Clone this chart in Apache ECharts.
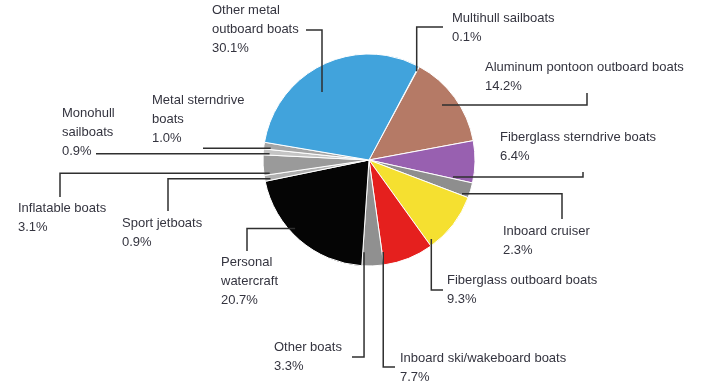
<!DOCTYPE html>
<html><head><meta charset="utf-8">
<script src="https://cdn.jsdelivr.net/npm/echarts@6/dist/echarts.min.js"></script>
<style>html,body{margin:0;padding:0;background:#fff}#c{width:702px;height:384px}</style>
</head><body><div id="c"></div>
<script>
// ---- data ----
const categories = ['Multihull sailboats','Aluminum pontoon outboard boats','Fiberglass sterndrive boats','Inboard cruiser','Fiberglass outboard boats','Inboard ski/wakeboard boats','Other boats','Personal watercraft','Sport jetboats','Inflatable boats','Monohull sailboats','Metal sterndrive boats','Other metal outboard boats'];
const shares = [0.1, 14.2, 6.4, 2.3, 9.3, 7.7, 3.3, 20.7, 0.9, 3.1, 0.9, 1.0, 30.1];
const labelTexts = ['Multihull sailboats','Aluminum pontoon outboard boats','Fiberglass sterndrive boats','Inboard cruiser','Fiberglass outboard boats','Inboard ski/wakeboard boats','Other boats','Personal\nwatercraft','Sport jetboats','Inflatable boats','Monohull\nsailboats','Metal sterndrive\nboats','Other metal\noutboard boats'];

// ---- styles / layout ----
const colors = ['#3a9f4a','#b57a66','#9860b0','#8e8e8e','#f5e030','#e5201e','#909090','#050505','#b0b0b0','#9a9a9a','#c4c4c4','#a6a6a6','#41a3dc'];
const CX = 369, CY = 160, R = 106, START = 28; // START: clockwise degrees from 12 o'clock
const LH = 19;
// x,y: text left / first line centre; t: leader type; ax,ay: preferred anchor; e: elbow coord; f: end coord
const labelPlaces = [
  {x:452,y:18, t:'v',ax:427,ay:72, e:27, f:443},
  {x:485,y:67, t:'h',ax:442,ay:105,e:587,f:93},
  {x:500,y:137,t:'h',ax:453,ay:177,e:583,f:172},
  {x:503,y:231,t:'h',ax:455,ay:209,e:562,f:219},
  {x:447,y:280,t:'v',ax:432,ay:240,e:290,f:443},
  {x:400,y:358,t:'v',ax:383,ay:252,e:367,f:395},
  {x:274,y:347,t:'v',ax:362,ay:252,e:357,f:352},
  {x:221,y:262,t:'h',ax:288,ay:235,e:247,f:251},
  {x:122,y:223,t:'h',ax:275,ay:195,e:168,f:211},
  {x:18, y:208,t:'h',ax:272,ay:185,e:60, f:197},
  {x:62, y:113,t:'h',ax:270,ay:171,e:90, f:159},
  {x:152,y:100,t:'h',ax:270,ay:163,e:197,f:150},
  {x:212,y:10, t:'v',ax:322,ay:92, e:30, f:306}
];

function hasFont(name){
  const c=document.createElement('canvas').getContext('2d');
  const s='Aluminum pontoon outboard boats';
  c.font='16px monospace'; const w0=c.measureText(s).width;
  c.font="16px '"+name+"', monospace"; const w1=c.measureText(s).width;
  return Math.abs(w0-w1)>0.5;
}
let FONT = {family:"'Liberation Sans', Arial, sans-serif", size:13};
if (hasFont('Liberation Sans Narrow')) FONT = {family:"'Liberation Sans Narrow', sans-serif", size:16};

const total = shares.reduce((a,b)=>a+b,0);
const spans = []; {let cum=0; shares.forEach(v=>{const a0=START+cum/total*360; cum+=v; spans.push([a0, START+cum/total*360]);});}

function anchorFor(i){
  const p = labelPlaces[i], [a0,a1] = spans[i], span=a1-a0;
  const dx = p.ax-CX, dy = p.ay-CY;
  let th = Math.atan2(dx, -dy)*180/Math.PI;
  let rho = Math.sqrt(dx*dx+dy*dy);
  const pad = Math.min(0.8, span/4);
  const d = ((th-a0)%360+360)%360;
  if (d < pad || d > span-pad) {
    if (d <= span) th = (d < pad) ? a0+pad : a1-pad;
    else th = ((d-span) < (360-d)) ? a1-pad : a0+pad;
  }
  rho = Math.max(0.3*R, Math.min(0.95*R, rho));
  const t = th*Math.PI/180;
  return [CX+rho*Math.sin(t), CY-rho*Math.cos(t)];
}
function leader(i){
  const p = labelPlaces[i], a = anchorFor(i);
  if (p.t==='h') {
    const wantUp = (p.f - p.ay) < 0, isUp = (p.f - a[1]) < 0;
    if (wantUp === isUp) return [a,[p.e,a[1]],[p.e,p.f]];
    return [a,[p.e + (p.e<a[0]?6:-6),a[1]]];
  }
  return [a,[a[0],p.e],[p.f,p.e]];
}

const chart = echarts.init(document.getElementById('c'), null, {renderer:'canvas'});
chart.setOption({
  backgroundColor:'#fff',
  animation:false,
  series:[{
    type:'pie',
    center:[CX,CY],
    radius:R,
    startAngle:90-START,
    clockwise:true,
    avoidLabelOverlap:false,
    data: categories.map((n,i)=>({name:n, value:shares[i], itemStyle:{color:colors[i]}})),
    itemStyle:{borderColor:'#ffffff', borderWidth:1},
    label:{
      show:true, position:'outside',
      formatter:p=>labelTexts[p.dataIndex]+'\n'+p.value.toFixed(1)+'%',
      color:'#34343f', fontFamily:FONT.family, fontSize:FONT.size, lineHeight:LH
    },
    labelLine:{show:false},
    labelLayout:function(params){
      const p = labelPlaces[params.dataIndex];
      return {x:p.x, y:p.y-LH/2, align:'left', verticalAlign:'top'};
    }
  }],
  graphic: categories.map((n,i)=>({
    type:'polyline', z:100, silent:true,
    shape:{points:leader(i)},
    style:{stroke:'#2f2f2f', lineWidth:1.5, fill:null}
  }))
});
</script></body></html>
